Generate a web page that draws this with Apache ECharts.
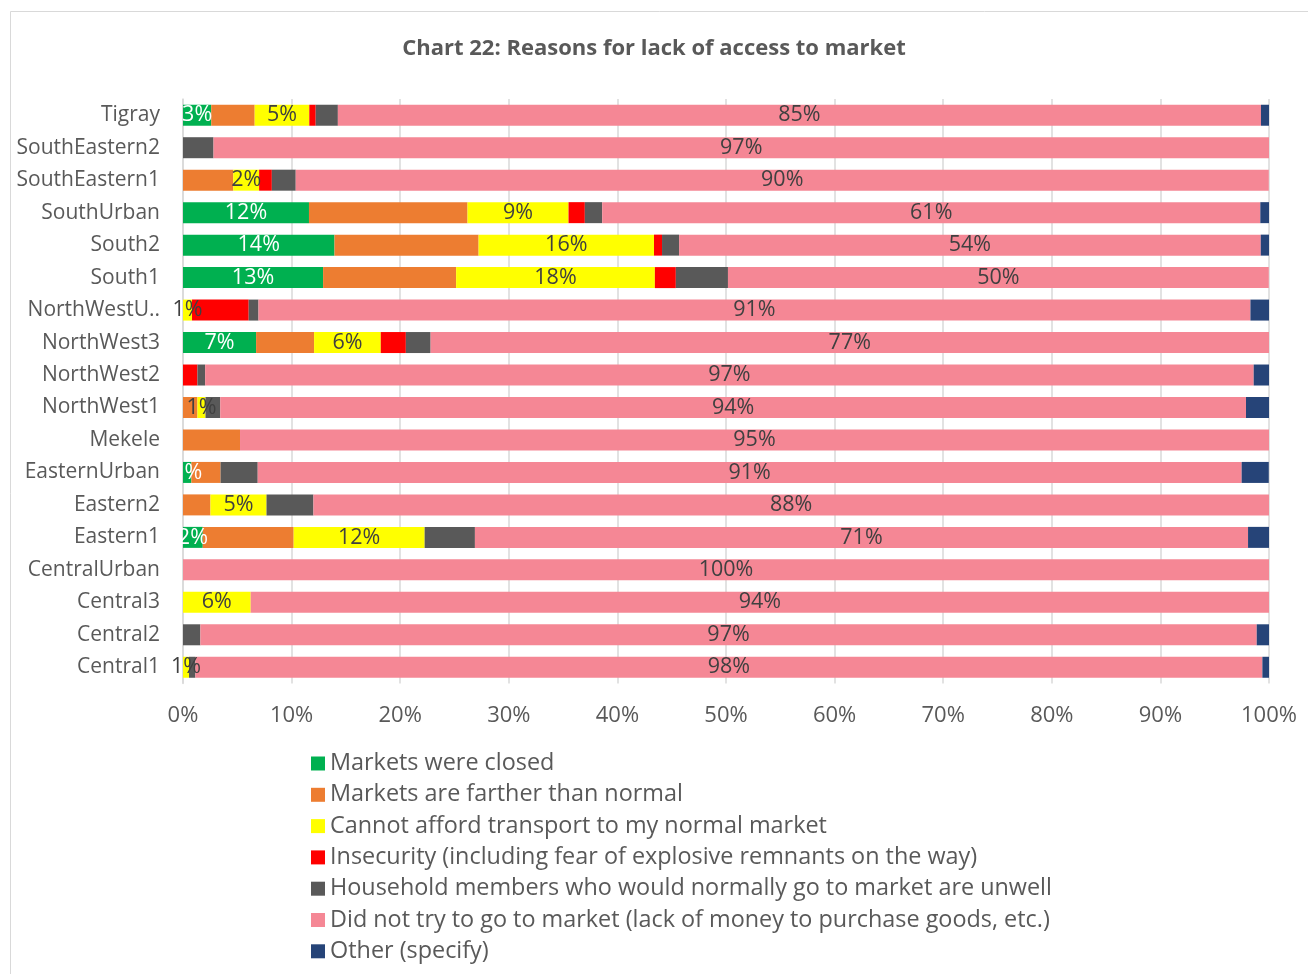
<!DOCTYPE html>
<html>
<head>
<meta charset="utf-8">
<script src="https://cdn.jsdelivr.net/npm/echarts@6/dist/echarts.min.js"></script>
<style>
html,body{margin:0;padding:0;background:#fff;}
#chart{width:1308px;height:974px;}
</style>
</head>
<body>
<div id="chart"></div>
<script>
const categories = ["Tigray","SouthEastern2","SouthEastern1","SouthUrban","South2","South1","NorthWestU..","NorthWest3","NorthWest2","NorthWest1","Mekele","EasternUrban","Eastern2","Eastern1","CentralUrban","Central3","Central2","Central1"];
const seriesNames = ["Markets were closed","Markets are farther than normal","Cannot afford transport to my normal market","Insecurity (including fear of explosive remnants on the way)","Household members who would normally go to market are unwell","Did not try to go to market (lack of money to purchase goods, etc.)","Other (specify)"];
const closed     = [2.6, 0, 0, 11.6, 13.95, 12.9, 0, 6.73, 0, 0, 0, 0.77, 0, 1.82, 0, 0, 0, 0];
const farther    = [4.0, 0, 4.63, 14.6, 13.27, 12.25, 0, 5.34, 0, 1.33, 5.25, 2.69, 2.53, 8.37, 0, 0, 0, 0];
const transport  = [5.03, 0, 2.38, 9.3, 16.15, 18.3, 0.83, 6.14, 0, 0.74, 0, 0, 5.16, 12.06, 0, 6.23, 0, 0.55];
const insecurity = [0.59, 0, 1.17, 1.5, 0.74, 1.93, 5.22, 2.31, 1.33, 0, 0, 0, 0, 0, 0, 0, 0, 0];
const unwell     = [2.04, 2.81, 2.2, 1.6, 1.57, 4.8, 0.9, 2.28, 0.71, 1.36, 0, 3.42, 4.32, 4.63, 0, 0, 1.6, 0.59];
const notTry     = [85.0, 97.2, 89.6, 60.6, 53.56, 49.8, 91.34, 77.2, 96.55, 94.45, 94.75, 90.6, 88.0, 71.19, 100, 93.77, 97.27, 98.25];
const other      = [0.77, 0, 0, 0.8, 0.77, 0, 1.72, 0, 1.41, 2.12, 0, 2.5, 0, 1.93, 0, 0, 1.13, 0.64];

const colors = ["#00b050","#ed7d31","#ffff00","#ff0000","#595959","#f58795","#264478"];
const dataSets = [closed, farther, transport, insecurity, unwell, notTry, other];
const labelColors = ["#ffffff", null, "#404040", null, null, "#404040", null];
const FONT = "Open Sans";

const series = dataSets.map((d, i) => ({
  name: seriesNames[i],
  type: 'bar',
  stack: 'total',
  barWidth: 21,
  data: d,
  itemStyle: { color: colors[i] },
  label: {
    show: labelColors[i] !== null,
    position: 'inside',
    color: labelColors[i] || '#404040',
    fontSize: 21.5,
    fontFamily: FONT,
    formatter: p => p.value > 0 ? Math.round(p.value) + '%' : ''
  },
  labelLayout: { hideOverlap: false }
}));

const chart = echarts.init(document.getElementById('chart'), null, { renderer: 'canvas' });
chart.setOption({
  backgroundColor: '#ffffff',
  animation: false,
  graphic: [{
    type: 'rect', z: -10,
    shape: { x: 10.5, y: 11.5, width: 1320, height: 1000 },
    style: { fill: '#ffffff', stroke: '#d9d9d9', lineWidth: 1 }
  }],
  title: {
    text: 'Chart 22: Reasons for lack of access to market',
    left: 'center', top: 33,
    textStyle: { fontFamily: FONT, fontSize: 22, fontWeight: 'bold', color: '#595959' }
  },
  legend: {
    orient: 'vertical', left: 306, top: 747,
    itemWidth: 14, itemHeight: 14, itemGap: 8.3, itemTextGap: 6,
    icon: 'rect',
    data: seriesNames,
    textStyle: { fontFamily: FONT, fontSize: 23.4, color: '#595959', lineHeight: 22 }
  },
  grid: { left: 183, right: 39, top: 99, bottom: 290.5, containLabel: false },
  xAxis: {
    type: 'value', min: 0, max: 100, interval: 10,
    axisLine: { show: false }, axisTick: { show: false },
    splitLine: { show: true, lineStyle: { color: '#d9d9d9', width: 1.5 } },
    axisLabel: { formatter: '{value}%', fontFamily: FONT, fontSize: 22, color: '#595959', margin: 21 }
  },
  yAxis: {
    type: 'category', data: categories, inverse: true,
    axisLine: { show: true, lineStyle: { color: '#d9d9d9', width: 1.5 } },
    axisTick: { show: false },
    axisLabel: { fontFamily: FONT, fontSize: 21, color: '#595959', margin: 23 }
  },
  series: series
});
</script>
</body>
</html>
